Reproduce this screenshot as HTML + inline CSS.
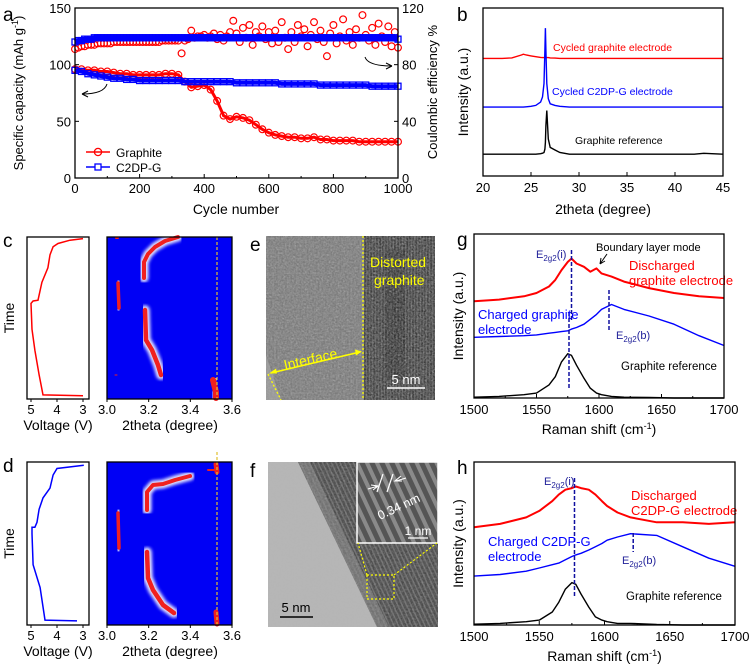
<!DOCTYPE html>
<html><head><meta charset="utf-8">
<style>
html,body{margin:0;padding:0;background:#fff;}
svg{display:block;font-family:"Liberation Sans",Arial,sans-serif;}
</style></head>
<body>
<svg id="fig" width="749" height="667" viewBox="0 0 749 667" xmlns="http://www.w3.org/2000/svg">
<defs>
  <filter id="noiseE" x="0" y="0" width="100%" height="100%">
    <feTurbulence type="fractalNoise" baseFrequency="0.55" numOctaves="2" seed="3"/>
    <feColorMatrix type="matrix" values="0 0 0 0 0.5  0 0 0 0 0.5  0 0 0 0 0.5  0.9 0.9 0.9 0 -1.0"/>
  </filter>
  <filter id="blurS"><feGaussianBlur stdDeviation="1.6"/></filter>
  <pattern id="stripesF" width="4" height="4" patternUnits="userSpaceOnUse" patternTransform="rotate(-25)">
    <rect width="4" height="4" fill="#4a4a4a"/><rect width="1.5" height="4" fill="#6a6a6a"/>
  </pattern>
  <pattern id="stripesE" width="3" height="6" patternUnits="userSpaceOnUse">
    <rect width="3" height="6" fill="#3e3e3e"/><rect width="1" height="6" fill="#555"/>
  </pattern>
  <pattern id="stripesI" width="9" height="9" patternUnits="userSpaceOnUse" patternTransform="rotate(-25)">
    <rect width="9" height="9" fill="#555"/><rect width="4" height="9" fill="#8a8a8a"/>
  </pattern>
</defs>
<g id="root"></g>
</svg>
<script>
// ---------- Panel a data ----------
const cycles = [0,20,40,60,80,100,120,140,160,180,200,220,240,260,280,300,320,340,360,380,400,420,440,460,480,500,520,540,560,580,600,620,640,660,680,700,720,740,760,780,800,820,840,860,880,900,920,940,960,980,1000];
const capGraphite = [96,96,95,95,94,94,93,92,92,91,91,91,91,91,92,92,91,85,80,81,82,78,68,55,52,54,53,51,47,43,40,38,37,36,36,35,35,36,34,34,33,33,33,33,32,32,32,32,32,32,32];
const capC2DP = [95,94,92,91,90,89,88,88,87,87,86,86,86,86,86,86,86,85,85,85,85,85,85,85,85,84,84,84,84,84,84,84,83,83,83,83,83,83,82,82,82,82,82,82,82,82,81,81,81,81,81];
const ceCycles = [0,10,20,30,40,50,60,70,80,90,100,110,120,130,140,150,160,170,180,190,200,210,220,230,240,250,260,270,280,290,300,310,320,330,340,350,360,370,380,390,400,410,420,430,440,450,460,470,480,490,500,510,520,530,540,550,560,570,580,590,600,610,620,630,640,650,660,670,680,690,700,710,720,730,740,750,760,770,780,790,800,810,820,830,840,850,860,870,880,890,900,910,920,930,940,950,960,970,980,990,1000];
const ceGraphite = [91,92,93,93,94,94,94,95,95,95,
  95,95,96,96,96,96,96,96,96,96,
  96,96,96,96,96,96,96,97,97,97,
  97,97,97,88,97,98,104,99,100,100,
  101,99,100,102,98,101,97,100,103,111,
  102,96,106,99,108,94,103,100,107,98,
  103,95,104,96,110,99,91,103,96,108,
  100,105,93,101,110,98,104,96,86,102,
  108,95,100,112,97,103,94,105,99,115,
  101,97,106,94,109,100,96,107,93,103,92];
const ceC2DP = [96,97,97,98,98,98,99,99,99,99,
  99,99,99,99,99,99,99,99,99,99,
  99,99,99,99,99,99,99,99,99,99,
  99,99,99,99,99,99,99,99,99,99,
  99,99,99,99,99,99,99,99,99,99,
  99,99,99,99,99,99,99,99,99,99,
  99,99,99,99,99,99,99,99,99,99,
  99,99,99,99,99,99,99,99,99,99,
  99,99,99,99,99,99,99,99,99,99,
  99,99,99,99,99,99,99,99,99,99,98];
const aXTicks = [0,200,400,600,800,1000];
const aYTicks = [0,50,100,150];
const aY2Ticks = [0,40,80,120];

// ---------- Panel b data ----------
const xrdTheta = [20,21,22,23,24,24.2,24.5,25,25.5,26,26.2,26.35,26.45,26.5,26.55,26.65,26.8,27,27.5,28,29,30,32,35,38,40,42,43,45];
const xrdRed   = [70,70,70,70.3,72,72.5,72,71.5,71,70.6,70.5,70.5,70.5,70.5,70.5,70.5,70.5,70.3,70.2,70,70,70,70,70,70,70,70,70,70];
const xrdBlue  = [41,41,41,41,41,41,41.2,41.5,42,44,47,55,75,88,75,55,46,43,42,41.5,41,41,41,41,41,41,41,41,41];
const xrdBlack = [13,13,13,13,13,13,13,13,13,13.3,13.6,14,16,20,30,39,22,17,15.5,14,13,13,13,13,13,13,13,13.5,13];
const bXTicks = [20,25,30,35,40,45];

// ---------- Panel c/d data ----------
const vTicks = [5,4,3];
const hmTicks = [3.0,3.2,3.4,3.6];
const cVolt = [3.0,3.5,3.96,4.15,4.27,4.35,4.58,4.73,4.92,5.0,4.96,4.85,4.69,4.54,3.0];
const cTime = [0.99,0.98,0.96,0.94,0.89,0.81,0.72,0.61,0.605,0.59,0.43,0.30,0.15,0.025,0.02];
const dVolt = [2.97,4.0,4.15,4.27,4.54,4.69,4.77,4.85,4.96,4.96,4.92,4.65,4.46,3.23];
const dTime = [0.98,0.96,0.92,0.84,0.78,0.71,0.63,0.60,0.60,0.56,0.37,0.23,0.03,0.025];

// ---------- Panel g/h data ----------
const ramanX = [1500,1520,1540,1550,1560,1565,1570,1575,1578,1582,1588,1593,1598,1602,1610,1620,1640,1660,1680,1700];
const gRed   = [59,60,62,64,68,72,78,83,85,82,80,77,79,76,74,71,67,64,62,61];
const gBlue  = [37,37.5,38,38.5,39.5,40,40.5,41,42,43,45,48,51,54,57,54,50,45,38,32];
const gBlack = [0.5,1,2,3,8,13,22,27,26,20,12,6,3,2,1,0.5,0.3,0,0,0];
const hRed   = [60,62,66,70,76,80,83,84,85,84,83,80,76,73,69,66,63,63,62,63];
const hBlue  = [30,31,33,35,37,38,40,42,43,44,46,48,50,52,54,56,55,48,41,36];
const hBlack = [0.5,1,2,3,8,14,22,26,25,19,11,5,3,2,1,1,0.3,0,0,0];
const ramanTicks = [1500,1550,1600,1650,1700];

// ---------- helpers ----------
const NS = "http://www.w3.org/2000/svg";
const root = document.getElementById('root');
function mk(tag, attrs, parent){
  const e = document.createElementNS(NS, tag);
  for (const k in attrs) e.setAttribute(k, attrs[k]);
  (parent||root).appendChild(e);
  return e;
}
function txt(x,y,s,size,opts,parent){
  opts = opts||{};
  const t = mk('text',{x:x,y:y,'font-size':size,fill:opts.fill||'#000','text-anchor':opts.anchor||'start'},parent);
  if (opts.rot) t.setAttribute('transform','rotate('+opts.rot+' '+x+' '+y+')');
  t.textContent = s;
  return t;
}
function linePath(xs, ys, fx, fy){
  let d='';
  for (let i=0;i<xs.length;i++) d += (i?'L':'M')+fx(xs[i]).toFixed(1)+','+fy(ys[i]).toFixed(1);
  return d;
}
function frame(x0,y0,x1,y1,name){
  const r = mk('rect',{x:x0,y:y0,width:x1-x0,height:y1-y0,fill:'none',stroke:'#000','stroke-width':1.3});
  
  
  return r;
}

// ================= Panel a =================
(function(){
  const X0=75,X1=398,Y0=8,Y1=178;
  const fx = c => X0 + c/1000*(X1-X0);
  const fy = v => Y1 - v/150*(Y1-Y0);
  const fy2 = v => Y1 - v/120*(Y1-Y0);
  const g = mk('g',{});
  
  
  txt(3,21,'a',19,{},g);
  const sG = mk('g',{},g);
  
  
  const sB = mk('g',{},g);
  
  
  mk('path',{d:linePath(cycles,capGraphite,fx,fy),fill:'none',stroke:'#f00','stroke-width':3},sG);
  cycles.forEach((c,i)=>{ const m=mk('circle',{cx:fx(c),cy:fy(capGraphite[i]),r:3.4,fill:'none',stroke:'#f00','stroke-width':1.2},sG);  });
  ceCycles.forEach((c,i)=>{ const m=mk('circle',{cx:fx(c),cy:fy2(ceGraphite[i]),r:3.4,fill:'none',stroke:'#f00','stroke-width':1.2},sG);  });
  mk('path',{d:linePath(cycles,capC2DP,fx,fy),fill:'none',stroke:'#00f','stroke-width':4},sB);
  cycles.forEach((c,i)=>{ const m=mk('rect',{x:fx(c)-3,y:fy(capC2DP[i])-3,width:6,height:6,fill:'none',stroke:'#00f','stroke-width':1.3},sB);  });
  mk('path',{d:linePath(ceCycles,ceC2DP,fx,fy2),fill:'none',stroke:'#00f','stroke-width':5},sB);
  ceCycles.forEach((c,i)=>{ const m=mk('rect',{x:fx(c)-3,y:fy2(ceC2DP[i])-3,width:6,height:6,fill:'none',stroke:'#00f','stroke-width':1.3},sB);  });
  mk('rect',{x:X0+1,y:Y0-8,width:X1-X0-2,height:8,fill:'#fff'},g);
  frame(X0,Y0,X1,Y1,'panel-a-axes-frame');
  aXTicks.forEach(t=>{ mk('line',{x1:fx(t),x2:fx(t),y1:Y1,y2:Y1-4,stroke:'#000'},g); txt(fx(t),Y1+15,String(t),13,{anchor:'middle'},g); });
  [100,300,500,700,900].forEach(t=>mk('line',{x1:fx(t),x2:fx(t),y1:Y1,y2:Y1-2,stroke:'#000'},g));
  aYTicks.forEach(t=>{ mk('line',{x1:X0,x2:X0+4,y1:fy(t),y2:fy(t),stroke:'#000'},g); txt(X0-4,fy(t)+5,String(t),13,{anchor:'end'},g); });
  aY2Ticks.forEach(t=>{ mk('line',{x1:X1,x2:X1-4,y1:fy2(t),y2:fy2(t),stroke:'#000'},g); txt(X1+4,fy2(t)+5,String(t),13,{},g); });
  txt(236,214,'Cycle number',14,{anchor:'middle'},g);
  const yt = mk('text',{x:23,y:93,'font-size':13,'text-anchor':'middle',transform:'rotate(-90 23 93)'},g);
  
  yt.innerHTML = 'Specific capacity (mAh g<tspan dy="-5" font-size="9">-1</tspan><tspan dy="5">)</tspan>';
  txt(437,92,'Coulombic efficiency %',13,{anchor:'middle',rot:-90},g);
  mk('path',{d:'M107,84 Q104,94 82,94',fill:'none',stroke:'#000','stroke-width':1},g);
  mk('path',{d:'M82,94 l6,-3 m-6,3 l6,3',fill:'none',stroke:'#000','stroke-width':1},g);
  mk('path',{d:'M365,57 Q368,66 392,66',fill:'none',stroke:'#000','stroke-width':1},g);
  mk('path',{d:'M392,66 l-6,-3 m6,3 l-6,3',fill:'none',stroke:'#000','stroke-width':1},g);
  const lg = mk('g',{},g);
  
  
  mk('line',{x1:86,x2:110,y1:152,y2:152,stroke:'#f00','stroke-width':1.5},lg);
  mk('circle',{cx:98,cy:152,r:3.6,fill:'none',stroke:'#f00','stroke-width':1.3},lg);
  txt(116,157,'Graphite',12,{},lg);
  mk('line',{x1:86,x2:110,y1:167,y2:167,stroke:'#00f','stroke-width':1.5},lg);
  mk('rect',{x:95,y:164,width:6,height:6,fill:'#fff',stroke:'#00f','stroke-width':1.3},lg);
  txt(116,172,'C2DP-G',12,{},lg);
})();

// ================= Panel b =================
(function(){
  const X0=483,X1=723,Y0=8,Y1=176;
  const fx = t => X0 + (t-20)/25*(X1-X0);
  const fy = v => Y1 - v/100*(Y1-Y0);
  const g = mk('g',{});
  
  
  txt(457,21,'b',19,{},g);
  [[xrdRed,'#f00','xrd-cycled-graphite'],[xrdBlue,'#00f','xrd-cycled-c2dp-g'],[xrdBlack,'#000','xrd-graphite-reference']].forEach(s=>{
    const p = mk('path',{d:linePath(xrdTheta,s[0],fx,fy),fill:'none',stroke:s[1],'stroke-width':1.4},g);
    
  });
  frame(X0,Y0,X1,Y1,'panel-b-axes-frame');
  bXTicks.forEach(t=>{ mk('line',{x1:fx(t),x2:fx(t),y1:Y1,y2:Y1-4,stroke:'#000'},g); txt(fx(t),Y1+16,String(t),13,{anchor:'middle'},g); });
  txt(603,214,'2theta (degree)',14,{anchor:'middle'},g);
  txt(468,92,'Intensity (a.u.)',14,{anchor:'middle',rot:-90},g);
  txt(553,51,'Cycled graphite electrode',10.5,{fill:'#f00'},g);
  txt(552,95,'Cycled C2DP-G electrode',10.5,{fill:'#00f'},g);
  txt(575,144,'Graphite reference',10.5,{},g);
})();

// ================= Panels c & d =================
function panelCD(letter, top, bottom, volt, time, color, streaks, dashTop){
  const g = mk('g',{});
  
  
  txt(3, top+10, letter, 19, {}, g);
  const VX0=27,VX1=89;
  const fv = v => 31 + (5-v)*26;
  const ft = t => bottom - t*(bottom-top);
  const vp = mk('path',{d:linePath(volt,time,fv,ft),fill:'none',stroke:color,'stroke-width':1.5},g);
  
  frame(VX0,top,VX1,bottom,'voltage-axes-frame');
  vTicks.forEach(v=>{ mk('line',{x1:fv(v),x2:fv(v),y1:bottom,y2:bottom+3,stroke:'#000'},g); txt(fv(v),bottom+15,String(v),13,{anchor:'middle'},g); });
  txt(58,bottom+31,'Voltage (V)',14,{anchor:'middle'},g);
  txt(14,(top+bottom)/2,'Time',14,{anchor:'middle',rot:-90},g);
  const HX0=107,HX1=232;
  const fh = t => HX0 + (t-3.0)/0.6*(HX1-HX0);
  const hm = mk('rect',{x:HX0,y:top,width:HX1-HX0,height:bottom-top,fill:'#0000f5'},g);
  
  
  streaks.forEach(s=>{
    const d = 'M'+s.pts.map(p=>p.join(',')).join('L');
    mk('path',{d:d,fill:'none',stroke:'#fff','stroke-width':s.w+5,'stroke-linecap':'round','stroke-linejoin':'round',filter:'url(#blurS)',opacity:0.9},g);
    mk('path',{d:d,fill:'none',stroke:'#f02020','stroke-width':s.w,'stroke-linecap':'round','stroke-linejoin':'round'},g);
  });
  mk('line',{x1:217,x2:217,y1:dashTop,y2:bottom,stroke:'#e0c030','stroke-width':1.2,'stroke-dasharray':'3,2'},g);
  hmTicks.forEach(t=>{ mk('line',{x1:fh(t),x2:fh(t),y1:bottom,y2:bottom+3,stroke:'#000'},g); txt(fh(t),bottom+15,t.toFixed(1),13,{anchor:'middle'},g); });
  frame(HX0,top,HX1,bottom,'heatmap-axes-frame');
  txt(170,bottom+31,'2theta (degree)',14,{anchor:'middle'},g);
}
panelCD('c',237,399,cVolt,cTime,'#f00',[
  {pts:[[144,278],[144,262],[148,254],[155,247],[165,241],[178,237]],w:4},
  {pts:[[118,283],[119,308]],w:3.5},
  {pts:[[145,310],[146,340],[152,350],[158,365],[161,375]],w:4.5},
  {pts:[[115,375],[117,375]],w:1},
  {pts:[[116,238],[118,238]],w:2},
  {pts:[[213,380],[216,392],[216,398]],w:6}
],237);
panelCD('d',462,625,dVolt,dTime,'#00f',[
  {pts:[[216,464],[217,472]],w:5},
  {pts:[[208,470],[214,470]],w:2},
  {pts:[[147,510],[147,492],[153,485],[163,484],[175,480],[190,476]],w:4},
  {pts:[[118,513],[119,548]],w:3.5},
  {pts:[[147,552],[148,578],[153,590],[163,605],[174,613]],w:4.5},
  {pts:[[216,612],[217,624]],w:5}
],452);

// ================= Panel e (TEM) =================
(function(){
  const g = mk('g',{});
  
  
  txt(250,251,'e',19,{},g);
  mk('rect',{x:266,y:236,width:169,height:164,fill:'#7b7b7b'},g);
  mk('rect',{x:364,y:236,width:71,height:164,fill:'url(#stripesE)'},g);
  mk('rect',{x:385,y:250,width:20,height:130,fill:'#2c2c2c',opacity:0.5},g);
  mk('rect',{x:266,y:236,width:169,height:164,filter:'url(#noiseE)',opacity:0.6},g);
  mk('path',{d:'M266,355 L266,400 L281,400 Z',fill:'#aaa',opacity:0.6},g);
  mk('line',{x1:363,x2:363,y1:236,y2:400,stroke:'#ff0','stroke-width':1.3,'stroke-dasharray':'2,2'},g);
  mk('line',{x1:268,x2:281,y1:374,y2:400,stroke:'#ff0','stroke-width':1.3,'stroke-dasharray':'2,2'},g);
  mk('line',{x1:271,x2:360,y1:373,y2:352,stroke:'#ff0','stroke-width':1.6},g);
  mk('path',{d:'M269,373.5 l7,-5 l1,5 z M362,351.5 l-7,-2 l1,6 z',fill:'#ff0'},g);
  txt(285,370,'Interface',14,{fill:'#ff0',rot:-13},g);
  txt(370,267,'Distorted',14,{fill:'#ff0'},g);
  txt(374,285,'graphite',14,{fill:'#ff0'},g);
  mk('line',{x1:387,x2:425,y1:388,y2:388,stroke:'#fff','stroke-width':1.5},g);
  txt(406,384,'5 nm',13,{fill:'#fff',anchor:'middle'},g);
})();

// ================= Panel f (TEM) =================
(function(){
  const g = mk('g',{});
  
  
  txt(250,477,'f',19,{},g);
  mk('rect',{x:268,y:462,width:170,height:165,fill:'#b5b5b5'},g);
  mk('path',{d:'M298,462 L438,462 L438,627 L377,627 Z',fill:'url(#stripesF)'},g);
  mk('path',{d:'M298,462 L310,462 L389,627 L377,627 Z',fill:'#808080',opacity:0.7},g);
  mk('rect',{x:268,y:462,width:170,height:165,filter:'url(#noiseE)',opacity:0.35},g);
  mk('rect',{x:357,y:462,width:81,height:81,fill:'url(#stripesI)',stroke:'#fff','stroke-width':1.5},g);
  mk('line',{x1:383,x2:377,y1:474,y2:492,stroke:'#fff','stroke-width':1.2},g);
  mk('line',{x1:393,x2:387,y1:474,y2:492,stroke:'#fff','stroke-width':1.2},g);
  mk('path',{d:'M368,489 l10,-3 M371,485 l7,1 l-5,4 M406,478 l-10,3 M401,476 l-6,5 l7,0',fill:'none',stroke:'#fff','stroke-width':1.1},g);
  txt(380,520,'0.34 nm',12.5,{fill:'#fff',rot:-25},g);
  mk('line',{x1:408,x2:428,y1:538,y2:538,stroke:'#fff','stroke-width':1.3},g);
  txt(418,535,'1 nm',12,{fill:'#fff',anchor:'middle'},g);
  mk('rect',{x:367,y:575,width:27,height:24,fill:'none',stroke:'#ff0','stroke-width':1.2,'stroke-dasharray':'2,2'},g);
  mk('line',{x1:367,x2:358,y1:575,y2:543,stroke:'#ff0','stroke-width':1.2,'stroke-dasharray':'2,2'},g);
  mk('line',{x1:394,x2:437,y1:575,y2:543,stroke:'#ff0','stroke-width':1.2,'stroke-dasharray':'2,2'},g);
  mk('line',{x1:280,x2:313,y1:617,y2:617,stroke:'#000','stroke-width':1.5},g);
  txt(296,612,'5 nm',13,{anchor:'middle'},g);
})();

// ================= Panels g & h (Raman) =================
function panelRaman(letter, X1, Y0, Y1, red, blue, black, ann){
  const X0=474;
  const fx = v => X0 + (v-1500)/200*(X1-X0);
  const fy = v => Y1 - v/100*(Y1-Y0);
  const g = mk('g',{});
  
  
  txt(457,Y0+12,letter,19,{},g);
  [[red,'#f00','raman-discharged'],[blue,'#00f','raman-charged'],[black,'#000','raman-graphite-reference']].forEach(s=>{
    const p = mk('path',{d:linePath(ramanX,s[0],fx,fy),fill:'none',stroke:s[1],'stroke-width':s[1]=='#f00'?2:1.4,'stroke-linejoin':'round'},g);
    
  });
  ann.dashes.forEach(d=>mk('line',{x1:fx(d[0]),x2:fx(d[0]),y1:d[1],y2:d[2],stroke:'#1010a0','stroke-width':1.5,'stroke-dasharray':'4,2'},g));
  frame(X0,Y0,X1,Y1,'panel-'+letter+'-axes-frame');
  ramanTicks.forEach(t=>{ mk('line',{x1:fx(t),x2:fx(t),y1:Y1,y2:Y1-4,stroke:'#000'},g); txt(fx(t),Y1+16,String(t),13,{anchor:'middle'},g); });
  [1525,1575,1625,1675].forEach(t=>mk('line',{x1:fx(t),x2:fx(t),y1:Y1,y2:Y1-2,stroke:'#000'},g));
  const xt = mk('text',{x:(X0+X1)/2,y:Y1+36,'font-size':14,'text-anchor':'middle'},g);
  
  xt.innerHTML = 'Raman shift (cm<tspan dy="-5" font-size="9">-1</tspan><tspan dy="5">)</tspan>';
  txt(463,(Y0+Y1)/2,'Intensity (a.u.)',14,{anchor:'middle',rot:-90},g);
  ann.texts.forEach(t=>{
    const e = mk('text',{x:t[0],y:t[1],'font-size':t[3],fill:t[4]},g);
    
    e.innerHTML = t[2];
  });
  if (ann.arrow) mk('path',{d:ann.arrow,fill:'none',stroke:'#000','stroke-width':1},g);
}
const E_i = 'E<tspan dy="3" font-size="8">2g2</tspan><tspan dy="-3">(i)</tspan>';
const E_b = 'E<tspan dy="3" font-size="8">2g2</tspan><tspan dy="-3">(b)</tspan>';
panelRaman('g',724,234,398,gRed,gBlue,gBlack,{
  dashes:[[1578,250,322],[1576,312,390],[1608,290,330]],
  texts:[[536,258,E_i,11,'#22229a','e2g2-i-label'],[596,251,'Boundary layer mode',11,'#000','boundary-layer-label'],
    [629,270,'Discharged',13,'#f00','label-discharged'],[629,285,'graphite electrode',13,'#f00','label-discharged-2'],
    [478,319,'Charged graphite',13,'#00f','label-charged'],[478,334,'electrode',13,'#00f','label-charged-2'],
    [616,339,E_b,11,'#22229a','e2g2-b-label'],[621,370,'Graphite reference',11.5,'#000','label-graphite-reference']],
  arrow:'M607,254 L600,264 M600,264 l1,-6 M600,264 l5,-3'
});
panelRaman('h',735,462,625,hRed,hBlue,hBlack,{
  dashes:[[1577,478,598],[1622,533,552]],
  texts:[[544,485,E_i,11,'#22229a','e2g2-i-label'],
    [631,500,'Discharged',13,'#f00','label-discharged'],[631,515,'C2DP-G electrode',13,'#f00','label-discharged-2'],
    [488,546,'Charged C2DP-G',13,'#00f','label-charged'],[488,561,'electrode',13,'#00f','label-charged-2'],
    [622,564,E_b,11,'#22229a','e2g2-b-label'],[626,600,'Graphite reference',11.5,'#000','label-graphite-reference']]
});
</script>
</body></html>
